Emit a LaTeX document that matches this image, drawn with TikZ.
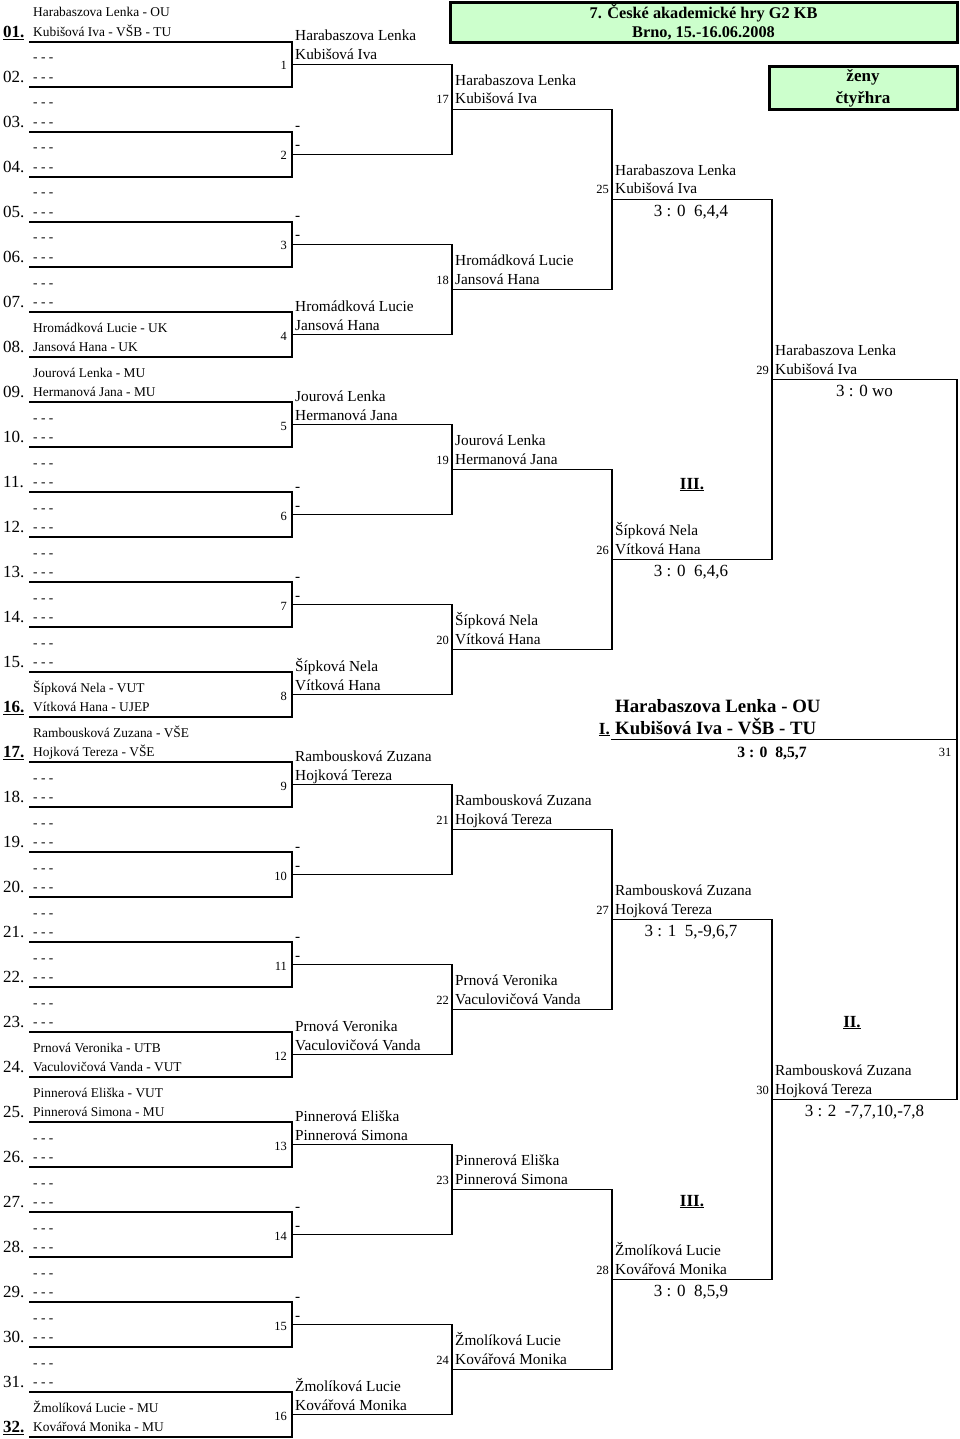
\documentclass[tikz,border=0pt]{standalone}
\usepackage{fontspec}
\setmainfont{Liberation Serif}
\newcommand\dsh{- - -}
\definecolor{lgreen}{HTML}{CCFFCC}
\begin{document}
\begin{tikzpicture}[x=1pt,y=-1pt,
  br/.style={line width=1.9pt, line cap=rect},
  sm/.style={anchor=base west, inner sep=0pt, font=\fontsize{13.4}{15}\selectfont},
  nm/.style={anchor=base west, inner sep=0pt, font=\fontsize{15.3}{17}\selectfont},
  en/.style={anchor=base west, inner sep=0pt, font=\fontsize{17}{19}\selectfont},
  mn/.style={anchor=base east, inner sep=0pt, font=\fontsize{12.5}{14}\selectfont},
  sc/.style={anchor=base, inner sep=0pt, font=\fontsize{17}{19}\selectfont},
  plc/.style={anchor=base, inner sep=0pt, font=\bfseries\fontsize{17}{19}\selectfont},
  hdr/.style={draw, line width=3pt, fill=lgreen, inner sep=0pt, align=center}]
\useasboundingbox (0,0) rectangle (960,1439);

% header boxes
\node[hdr, minimum width=507pt, minimum height=40pt, font=\bfseries\fontsize{16.3}{19.3}\selectfont] (title) at (703.5,22.5) {7. České akademické hry G2 KB\\Brno, 15.-16.06.2008};
\node[hdr, minimum width=188pt, minimum height=43pt, font=\bfseries\fontsize{17}{22}\selectfont] (cat) at (863,88.3) {ženy\\čtyřhra};

% round 1 entries
\foreach \k/\nA/\nB/\nN in {
 1/Harabaszova Lenka - OU/Kubišová Iva - VŠB - TU/\underline{\textbf{01.}},
 2/\dsh/\dsh/02., 3/\dsh/\dsh/03., 4/\dsh/\dsh/04., 5/\dsh/\dsh/05.,
 6/\dsh/\dsh/06., 7/\dsh/\dsh/07.,
 8/Hromádková Lucie - UK/Jansová Hana - UK/08.,
 9/Jourová Lenka - MU/Hermanová Jana - MU/09.,
 10/\dsh/\dsh/10., 11/\dsh/\dsh/11., 12/\dsh/\dsh/12., 13/\dsh/\dsh/13.,
 14/\dsh/\dsh/14., 15/\dsh/\dsh/15.,
 16/Šípková Nela - VUT/Vítková Hana - UJEP/\underline{\textbf{16.}},
 17/Rambousková Zuzana - VŠE/Hojková Tereza - VŠE/\underline{\textbf{17.}},
 18/\dsh/\dsh/18., 19/\dsh/\dsh/19., 20/\dsh/\dsh/20., 21/\dsh/\dsh/21.,
 22/\dsh/\dsh/22., 23/\dsh/\dsh/23.,
 24/Prnová Veronika - UTB/Vaculovičová Vanda - VUT/24.,
 25/Pinnerová Eliška - VUT/Pinnerová Simona - MU/25.,
 26/\dsh/\dsh/26., 27/\dsh/\dsh/27., 28/\dsh/\dsh/28., 29/\dsh/\dsh/29.,
 30/\dsh/\dsh/30., 31/\dsh/\dsh/31.,
 32/Žmolíková Lucie - MU/Kovářová Monika - MU/\underline{\textbf{32.}}}{
  \pgfmathsetmacro\L{42+45*(\k-1)}
  \coordinate (La\k) at (30,\L);
  \coordinate (Lb\k) at (292,\L);
  \draw[br] (La\k) -- (Lb\k);
  \node[sm] (ta\k) at (33,\L-25) {\nA};
  \node[sm] (tb\k) at (33,\L-5.5) {\nB};
  \node[en] (tn\k) at (3,\L-4.3) {\nN};
}

% round 2 (matches 1-16)
\foreach \m/\nA/\nB in {
 1/Harabaszova Lenka/Kubišová Iva, 2/-/-, 3/-/-,
 4/Hromádková Lucie/Jansová Hana,
 5/Jourová Lenka/Hermanová Jana, 6/-/-, 7/-/-,
 8/Šípková Nela/Vítková Hana,
 9/Rambousková Zuzana/Hojková Tereza, 10/-/-, 11/-/-,
 12/Prnová Veronika/Vaculovičová Vanda,
 13/Pinnerová Eliška/Pinnerová Simona, 14/-/-, 15/-/-,
 16/Žmolíková Lucie/Kovářová Monika}{
  \pgfmathtruncatemacro\p{2*\m-1}
  \pgfmathtruncatemacro\q{2*\m}
  \pgfmathsetmacro\W{64.5+90*(\m-1)}
  \draw[br] (Lb\p) -- (Lb\q);
  \coordinate (Ma\m) at (292,\W);
  \coordinate (Mb\m) at (452,\W);
  \draw[br] (Ma\m) -- (Mb\m);
  \node[nm] (ma\m) at (295,\W-23.5) {\nA};
  \node[nm] (mb\m) at (295,\W-4.5) {\nB};
  \node[mn] (mn\m) at (287,\W+5.5) {\m};
}

% round 3 (matches 17-24)
\foreach \j/\nA/\nB in {
 17/Harabaszova Lenka/Kubišová Iva,
 18/Hromádková Lucie/Jansová Hana,
 19/Jourová Lenka/Hermanová Jana,
 20/Šípková Nela/Vítková Hana,
 21/Rambousková Zuzana/Hojková Tereza,
 22/Prnová Veronika/Vaculovičová Vanda,
 23/Pinnerová Eliška/Pinnerová Simona,
 24/Žmolíková Lucie/Kovářová Monika}{
  \pgfmathtruncatemacro\i{\j-16}
  \pgfmathtruncatemacro\p{2*\i-1}
  \pgfmathtruncatemacro\q{2*\i}
  \pgfmathsetmacro\W{109.5+180*(\i-1)}
  \draw[br] (Mb\p) -- (Mb\q);
  \coordinate (Na\j) at (452,\W);
  \coordinate (Nb\j) at (612,\W);
  \draw[br] (Na\j) -- (Nb\j);
  \node[nm] (na\j) at (455,\W-24) {\nA};
  \node[nm] (nb\j) at (455,\W-5.5) {\nB};
  \node[mn] (nn\j) at (449,\W-5.5) {\j};
}

% round 4 (matches 25-28)
\foreach \j/\nA/\nB/\s in {
 25/Harabaszova Lenka/Kubišová Iva/{3 : 0~~6,4,4},
 26/Šípková Nela/Vítková Hana/{3 : 0~~6,4,6},
 27/Rambousková Zuzana/Hojková Tereza/{3 : 1~~5,-9,6,7},
 28/Žmolíková Lucie/Kovářová Monika/{3 : 0~~8,5,9}}{
  \pgfmathtruncatemacro\i{\j-24}
  \pgfmathtruncatemacro\p{16+2*\i-1}
  \pgfmathtruncatemacro\q{16+2*\i}
  \pgfmathsetmacro\W{199.5+360*(\i-1)}
  \draw[br] (Nb\p) -- (Nb\q);
  \coordinate (Pa\j) at (612,\W);
  \coordinate (Pb\j) at (772,\W);
  \draw[br] (Pa\j) -- (Pb\j);
  \node[nm] (pa\j) at (615,\W-24) {\nA};
  \node[nm] (pb\j) at (615,\W-5.5) {\nB};
  \node[mn] (pn\j) at (609,\W-5.5) {\j};
  \node[sc] (ps\j) at (691,\W+17) {\s};
}

% round 5 (matches 29-30)
\foreach \j/\nA/\nB/\s in {
 29/Harabaszova Lenka/Kubišová Iva/{3 : 0 wo},
 30/Rambousková Zuzana/Hojková Tereza/{3 : 2~~-7,7,10,-7,8}}{
  \pgfmathtruncatemacro\i{\j-28}
  \pgfmathtruncatemacro\p{24+2*\i-1}
  \pgfmathtruncatemacro\q{24+2*\i}
  \pgfmathsetmacro\W{379.5+720*(\i-1)}
  \draw[br] (Pb\p) -- (Pb\q);
  \coordinate (Qa\j) at (772,\W);
  \coordinate (Qb\j) at (957,\W);
  \draw[br] (Qa\j) -- (Qb\j);
  \node[nm] (qa\j) at (775,\W-24) {\nA};
  \node[nm] (qb\j) at (775,\W-5.5) {\nB};
  \node[mn] (qn\j) at (769,\W-5.5) {\j};
  \node[sc] (qs\j) at (864.5,\W+17) {\s};
}

% final
\draw[br] (Qb29) -- (Qb30);
\coordinate (Fa) at (612,739.5);
\coordinate (Fb) at (957,739.5);
\draw[br] (Fa) -- (Fb);
\node[anchor=base west, inner sep=0pt, font=\bfseries\fontsize{18.8}{21}\selectfont] (fa) at (615,712) {Harabaszova Lenka - OU};
\node[anchor=base west, inner sep=0pt, font=\bfseries\fontsize{18.8}{21}\selectfont] (fb) at (615,734) {Kubišová Iva - VŠB - TU};
\node[anchor=base east, inner sep=0pt, font=\bfseries\fontsize{17}{19}\selectfont] (fI) at (610,734) {\underline{I.}};
\node[anchor=base, inner sep=0pt, font=\bfseries\fontsize{15.7}{18}\selectfont] (fs) at (772,757.5) {3 : 0~~8,5,7};
\node[mn, anchor=base] (fn) at (945,756.5) {31};

% placings
\node[plc] (p3a) at (692,489) {\underline{III.}};
\node[plc] (p3b) at (692,1206) {\underline{III.}};
\node[plc] (p2) at (852,1027) {\underline{II.}};
\end{tikzpicture}
\end{document}
